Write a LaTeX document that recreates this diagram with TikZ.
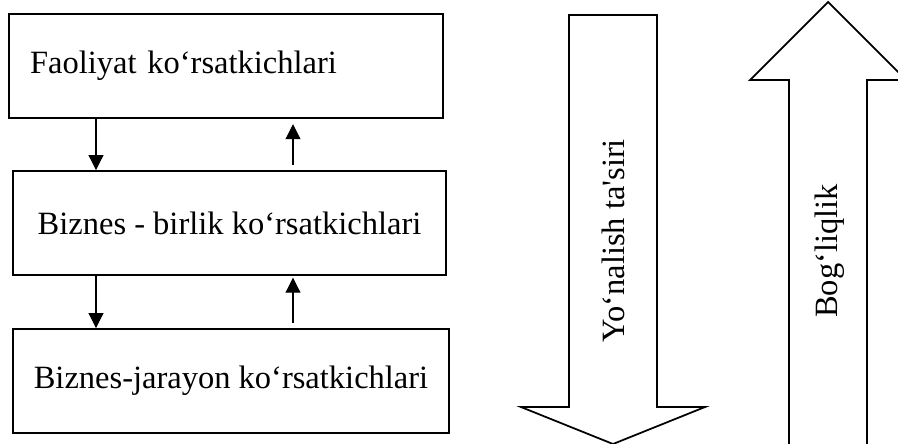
\documentclass[tikz,border=0pt]{standalone}
\usepackage{fontspec}
\setmainfont{Liberation Serif}
\usepackage{tikz}
\usetikzlibrary{arrows.meta,positioning}

\begin{document}
\begin{tikzpicture}[
  x=0.02cm, y=-0.02cm,
  font=\fontsize{18.5}{22}\selectfont,
  box/.style={draw, line width=1.1pt, minimum height=2.08cm, inner xsep=0.42cm},
  arr/.style={-{Triangle[length=0.3cm,width=0.3cm]}, line width=0.6pt},
  bigarr/.style={draw, line width=1pt, line join=miter},
  lbl/.style={rotate=90, inner sep=0pt},
]
  \useasboundingbox (0,0) rectangle (898,443);

  \node[box, text width=7.84cm, align=left] (fao) at (226,66) {Faoliyat ko‘rsatkichlari};
  \node[box, minimum width=8.66cm] (biz) at (229.5,223) {Biznes - birlik ko‘rsatkichlari};
  \node[box, minimum width=8.68cm] (jar) at (231,381) {Biznes-jarayon ko‘rsatkichlari};

  % Arrows between levels
  \coordinate (dn) at (96,0);
  \coordinate (up) at (293,0);
  \draw[arr] (dn |- fao.south) -- (dn |- biz.north);
  \draw[arr, shorten <=3pt, shorten >=3pt] (up |- biz.north) -- (up |- fao.south);
  \draw[arr] (dn |- biz.south) -- (dn |- jar.north);
  \draw[arr, shorten <=3pt, shorten >=1pt] (up |- jar.north) -- (up |- biz.south);

  % Big arrows
  \draw[bigarr] (569,15) -- (657,15) -- (657,407) -- (705,407) -- (613,444)
    -- (521,407) -- (569,407) -- cycle;
  \draw[bigarr] (789,450) -- (789,80) -- (750,80) -- (828,2) -- (906,80)
    -- (867,80) -- (867,450);
  \node[lbl] (yon) at (613,241) {Yo‘nalish ta\textquotesingle siri};
  \node[lbl] (bog) at (830,251) {Bog‘liqlik};
\end{tikzpicture}
\end{document}
